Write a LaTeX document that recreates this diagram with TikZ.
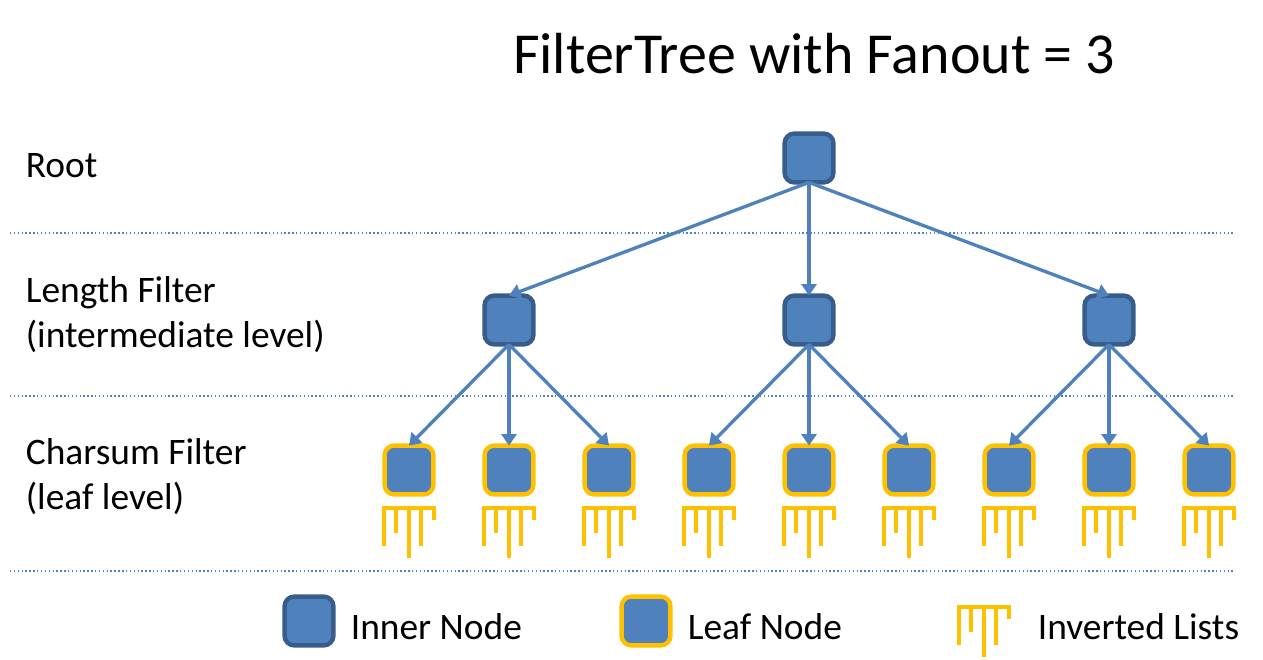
\documentclass[tikz,border=0pt]{standalone}
\usepackage{fontspec}
\setmainfont{Carlito}
\usetikzlibrary{arrows.meta}

\definecolor{nodeblue}{HTML}{4F81BD}
\definecolor{edgeblue}{HTML}{385D8A}
\definecolor{listgold}{HTML}{FFC000}

\tikzset{
    innernode/.style={draw=edgeblue, fill=nodeblue, line width=2.5pt, rounded corners=5.5pt,
        minimum size=27.8pt, inner sep=0pt, outer sep=0pt},
    leafnode/.style={innernode, draw=listgold},
    treearrow/.style={draw=nodeblue, line width=1.9pt, -{Triangle[length=6.5pt,width=8.5pt]}},
    levelline/.style={draw=nodeblue, line width=0.8pt, dash pattern=on 0.8pt off 1.4pt},
    labeltext/.style={align=left, anchor=west, inner sep=0pt, font=\fontsize{21.3}{25.7}\selectfont},
    invlist/.pic={
        \draw[listgold, line width=2pt] (-25,38) -- (-25,0) -- (25,0) -- (25,12);
        \draw[listgold, line width=2pt] (-13,0) -- (-13,25);
        \draw[listgold, line width=2pt] (0,0) -- (0,50);
        \draw[listgold, line width=2pt] (12,0) -- (12,38);
    }
}

\begin{document}
\begin{tikzpicture}[x=0.02cm, y=-0.02cm]
    \useasboundingbox (0,0) rectangle (1263,659);

    \node (title) at (814,54) [font=\fontsize{33}{38}\selectfont] {FilterTree with Fanout = 3};

    % level labels
    \node (rootlabel) at (25.5,166) [labeltext] {Root};
    \node (lengthlabel) at (25.5,315) [labeltext] {Length Filter\\(intermediate level)};
    \node (charsumlabel) at (25.5,477) [labeltext] {Charsum Filter\\(leaf level)};

    % dotted separators
    \coordinate (sepa) at (10,233);
    \coordinate (sepb) at (10,396);
    \coordinate (sepc) at (10,571);
    \draw[levelline] (sepa) -- ++(1225,0);
    \draw[levelline] (sepb) -- ++(1225,0);
    \draw[levelline] (sepc) -- ++(1225,0);

    % tree
    \node (root) at (809,158) [innernode] {};
    \foreach \i/\xpos in {1/509, 2/809, 3/1109} {
        \node (len\i) at (\xpos,320) [innernode] {};
        \draw[treearrow] (root.south) -- (len\i.north);
    }
    \foreach \p/\i/\xpos in {1/1/409, 1/2/509, 1/3/609, 2/4/709, 2/5/809, 2/6/909, 3/7/1009, 3/8/1109, 3/9/1209} {
        \node (leaf\i) at (\xpos,470) [leafnode] {};
        \draw[treearrow] (len\p.south) -- (leaf\i.north);
        \pic at (\xpos,508) {invlist};
    }

    % legend
    \node (innerkey) at (309,621) [innernode] {};
    \node (innertext) at (350.5,627) [labeltext] {Inner Node};
    \node (leafkey) at (646,621) [leafnode] {};
    \node (leaftext) at (687.5,627) [labeltext] {Leaf Node};
    \pic at (984,607) {invlist};
    \node (listtext) at (1037.5,627) [labeltext] {Inverted Lists};
\end{tikzpicture}
\end{document}
